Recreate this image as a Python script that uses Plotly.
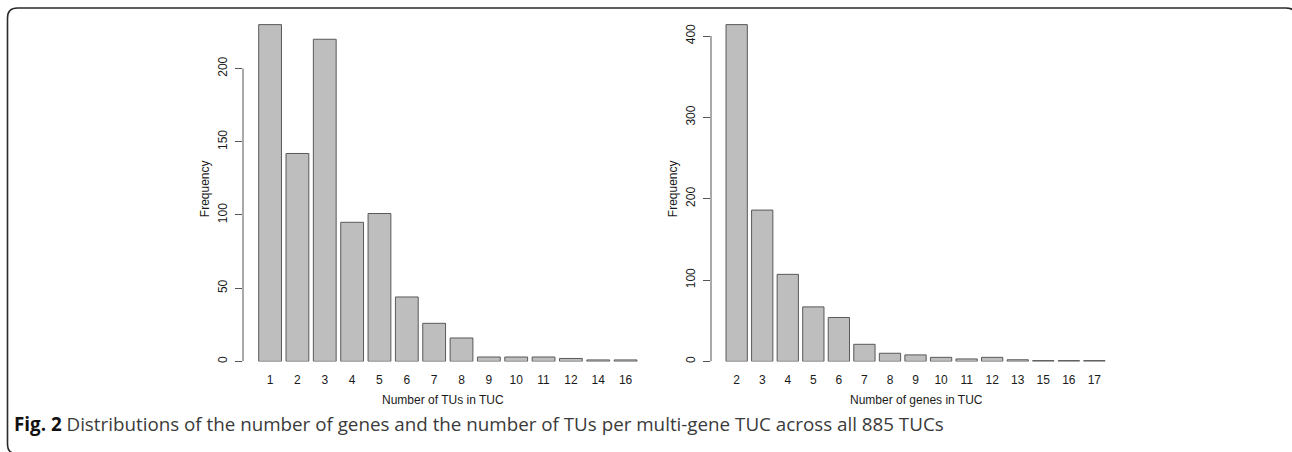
import plotly.graph_objects as go

# ---- data ----
tus_categories = ["1", "2", "3", "4", "5", "6", "7", "8", "9", "10", "11", "12", "14", "16"]
tus_frequency = [230, 142, 220, 95, 101, 44, 26, 16, 3, 3, 3, 2, 1, 1]
genes_categories = ["2", "3", "4", "5", "6", "7", "8", "9", "10", "11", "12", "13", "15", "16", "17"]
genes_frequency = [414, 186, 107, 67, 54, 21, 10, 8, 5, 3, 5, 2, 1, 1, 1]
left_yticks = [0, 50, 100, 150, 200]
right_yticks = [0, 100, 200, 300, 400]
left_xtitle = "Number of TUs in TUC"
right_xtitle = "Number of genes in TUC"
ytitle = "Frequency"
caption_bold = "Fig. 2"
caption_text = " Distributions of the number of genes and the number of TUs per multi-gene TUC across all 885 TUCs"

W, H = 1292, 452


def X(px):
    return px / W


def Y(py):
    return 1 - py / H


BAR_FILL = "#bebebe"
BAR_LINE = "#595959"
AXIS_COL = "#555555"
TXT = "#1a1a1a"
FONT = "Liberation Sans, Arial, sans-serif"

fig = go.Figure()
fig.add_trace(go.Bar(x=tus_categories, y=tus_frequency, xaxis="x", yaxis="y",
                     marker=dict(color=BAR_FILL, line=dict(color=BAR_LINE, width=1)),
                     showlegend=False, hoverinfo="x+y"))
fig.add_trace(go.Bar(x=genes_categories, y=genes_frequency, xaxis="x2", yaxis="y2",
                     marker=dict(color=BAR_FILL, line=dict(color=BAR_LINE, width=1)),
                     showlegend=False, hoverinfo="x+y"))

ydom = [Y(363), Y(11.2)]
xcommon = dict(type="category", showgrid=False, zeroline=False, showline=False, ticks="",
               tickfont=dict(family=FONT, size=12, color=TXT), ticklabelstandoff=10)
ycommon = dict(showgrid=False, zeroline=False, showline=False, ticks="outside", ticklen=7,
               tickcolor=AXIS_COL, tickwidth=1, tickangle=-90,
               tickfont=dict(family=FONT, size=12, color=TXT), ticklabelstandoff=3)

fig.update_layout(
    width=W, height=H,
    margin=dict(l=0, r=0, t=0, b=0),
    paper_bgcolor="white", plot_bgcolor="rgba(0,0,0,0)",
    bargap=0.2 / 1.2,
    xaxis=dict(domain=[X(243), X(642)], range=[-0.99, 13.6], anchor="y", **xcommon),
    yaxis=dict(domain=ydom, range=[0, max(tus_frequency) * 1.04], anchor="x",
               tickvals=left_yticks, **ycommon),
    xaxis2=dict(domain=[X(711), X(1109.7)], range=[-1.005, 14.6], anchor="y2", **xcommon),
    yaxis2=dict(domain=ydom, range=[0, max(genes_frequency) * 1.04], anchor="x2",
                tickvals=right_yticks, **ycommon),
)

shapes = [
    dict(type="line", xref="paper", yref="y", x0=X(243), x1=X(243),
         y0=min(left_yticks), y1=max(left_yticks), line=dict(color=AXIS_COL, width=1)),
    dict(type="line", xref="paper", yref="y2", x0=X(711), x1=X(711),
         y0=min(right_yticks), y1=max(right_yticks), line=dict(color=AXIS_COL, width=1)),
]

# open rounded frame: left edge, top edge, and the start of the top-right corner
l, t, r, b, rad = 7.5, 8, 1296, 456, 10
path = (f"M {X(l + rad)},{Y(b)} Q {X(l)},{Y(b)} {X(l)},{Y(b - rad)} "
        f"L {X(l)},{Y(t + rad)} Q {X(l)},{Y(t)} {X(l + rad)},{Y(t)} "
        f"L {X(r - rad)},{Y(t)} Q {X(r)},{Y(t)} {X(r)},{Y(t + rad)}")
shapes.append(dict(type="path", xref="paper", yref="paper", path=path,
                   line=dict(color="#2a2a2a", width=1.6)))
fig.update_layout(shapes=shapes)

ann = [
    dict(text=ytitle, x=X(205), y=Y(190), xref="paper", yref="paper", textangle=-90,
         showarrow=False, xanchor="center", yanchor="middle",
         font=dict(family=FONT, size=12, color=TXT)),
    dict(text=ytitle, x=X(673), y=Y(190), xref="paper", yref="paper", textangle=-90,
         showarrow=False, xanchor="center", yanchor="middle",
         font=dict(family=FONT, size=12, color=TXT)),
    dict(text=left_xtitle, x=X(442.5), y=Y(401.5), xref="paper", yref="paper",
         showarrow=False, xanchor="center", yanchor="middle",
         font=dict(family=FONT, size=12, color=TXT)),
    dict(text=right_xtitle, x=X(916), y=Y(401.5), xref="paper", yref="paper",
         showarrow=False, xanchor="center", yanchor="middle",
         font=dict(family=FONT, size=12, color=TXT)),
    dict(text=f"<b>{caption_bold}</b><span style='color:#3a3a3a'>{caption_text}</span>",
         x=X(12), y=Y(426), xref="paper", yref="paper",
         showarrow=False, xanchor="left", yanchor="middle",
         font=dict(family="Open Sans, sans-serif", size=18.8, color="#111111")),
]
fig.update_layout(annotations=ann)

fig.write_html("out.html", config={"displayModeBar": False},
               post_script="document.body.style.margin='0';document.body.style.overflow='hidden';")
